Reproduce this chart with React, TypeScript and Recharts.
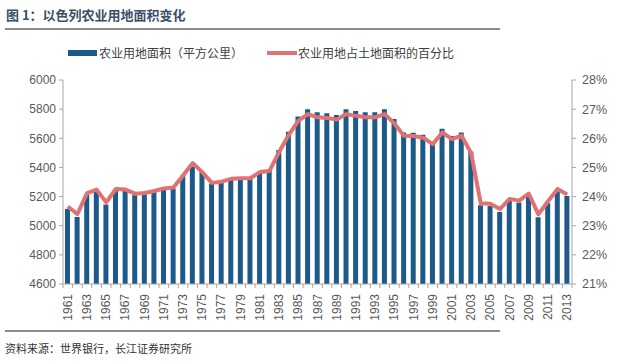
import React from 'react';
import { ComposedChart, Bar, Line, XAxis, YAxis } from 'recharts';

const years = [
  '1961', '1962', '1963', '1964', '1965', '1966', '1967', '1968', '1969', '1970',
  '1971', '1972', '1973', '1974', '1975', '1976', '1977', '1978', '1979', '1980',
  '1981', '1982', '1983', '1984', '1985', '1986', '1987', '1988', '1989', '1990',
  '1991', '1992', '1993', '1994', '1995', '1996', '1997', '1998', '1999', '2000',
  '2001', '2002', '2003', '2004', '2005', '2006', '2007', '2008', '2009', '2010',
  '2011', '2012', '2013',
];

// 农业用地面积（平方公里）
const areaValues = [
  5115, 5060, 5215, 5240, 5145, 5245, 5240, 5210, 5215, 5230,
  5250, 5255, 5345, 5420, 5370, 5290, 5300, 5320, 5325, 5325,
  5370, 5380, 5520, 5645, 5750, 5800, 5778, 5772, 5760, 5800,
  5787, 5778, 5778, 5800, 5732, 5640, 5638, 5625, 5572, 5665,
  5615, 5640, 5510, 5140, 5135, 5095, 5172, 5159, 5211, 5058,
  5154, 5245, 5204,
];

// 农业用地占土地面积的百分比 (%)
const shareValues = [
  23.66, 23.40, 24.12, 24.24, 23.80, 24.26, 24.24, 24.10, 24.12, 24.19,
  24.28, 24.31, 24.72, 25.15, 24.84, 24.47, 24.51, 24.61, 24.63, 24.63,
  24.84, 24.88, 25.53, 26.11, 26.60, 26.83, 26.72, 26.70, 26.64, 26.83,
  26.77, 26.72, 26.72, 26.83, 26.51, 26.09, 26.08, 26.02, 25.80, 26.20,
  25.97, 26.09, 25.49, 23.77, 23.75, 23.57, 23.92, 23.86, 24.10, 23.39,
  23.84, 24.26, 24.07,
];

const leftTicks = [4600, 4800, 5000, 5200, 5400, 5600, 5800, 6000];
const rightTicks = [21, 22, 23, 24, 25, 26, 27, 28];

const data = years.map((year, i) => ({ year, area: areaValues[i], pct: shareValues[i] }));

const BAR_COLOR = '#1c5a8a';
const LINE_COLOR = '#e07274';
const AXIS_COLOR = '#a6a6a6';
const TEXT_COLOR = '#595959';
const NUM_FONT = '"Liberation Sans", Arial, sans-serif';
const CJK_FONT = '"Noto Sans CJK SC", "Noto Sans", sans-serif';

const PLOT_WIDTH = 509;

const YearTick = (props: any) => {
  const { x, y, payload, index } = props;
  const half = PLOT_WIDTH / years.length / 2;
  return (
    <g>
      <line x1={x - half} x2={x - half} y1={y} y2={y + 4} stroke={AXIS_COLOR} />
      {index === years.length - 1 && (
        <line x1={x + half} x2={x + half} y1={y} y2={y + 4} stroke={AXIS_COLOR} />
      )}
      {index % 2 === 0 && (
        <text
          x={x}
          y={y + 10}
          transform={`rotate(-90, ${x}, ${y + 10})`}
          textAnchor="end"
          dominantBaseline="central"
          fontSize={12}
          fontFamily={NUM_FONT}
          fill={TEXT_COLOR}
        >
          {payload.value}
        </text>
      )}
    </g>
  );
};

export default function App() {
  return (
    <div style={{ position: 'absolute', left: 0, top: 0, width: 640, height: 364, background: '#fff', overflow: 'hidden' }}>
      <div style={{ position: 'absolute', left: 6, top: 5, fontFamily: CJK_FONT, fontSize: 13, fontWeight: 700, color: '#3b4f69', whiteSpace: 'nowrap' }}>
        图 1：以色列农业用地面积变化
      </div>
      <div style={{ position: 'absolute', left: 5, top: 28, width: 495, height: 2, background: '#8c8c8c' }} />

      {/* legend */}
      <div style={{ position: 'absolute', left: 68, top: 50, width: 29, height: 6, background: BAR_COLOR }} />
      <div style={{ position: 'absolute', left: 99, top: 44, fontFamily: CJK_FONT, fontSize: 12, color: '#404040', whiteSpace: 'nowrap', lineHeight: '18px' }}>
        农业用地面积（平方公里）
      </div>
      <div style={{ position: 'absolute', left: 267, top: 51, width: 30, height: 4, background: LINE_COLOR }} />
      <div style={{ position: 'absolute', left: 298, top: 44, fontFamily: CJK_FONT, fontSize: 12, color: '#404040', whiteSpace: 'nowrap', lineHeight: '18px' }}>
        农业用地占土地面积的百分比
      </div>

      <div style={{ position: 'absolute', left: 0, top: 0 }}>
        <ComposedChart width={640} height={364} data={data} margin={{ top: 80, right: 0, bottom: 30, left: 0 }}>
          <XAxis
            dataKey="year"
            interval={0}
            height={50}
            tickSize={0}
            tickMargin={0}
            tickLine={false}
            axisLine={{ stroke: AXIS_COLOR }}
            tick={<YearTick />}
          />
          <YAxis
            yAxisId="left"
            orientation="left"
            width={63}
            domain={[4600, 6000]}
            ticks={leftTicks}
            interval={0}
            tickSize={4}
            tickMargin={3}
            axisLine={{ stroke: AXIS_COLOR }}
            tickLine={{ stroke: AXIS_COLOR }}
            tick={{ fontSize: 12, fill: TEXT_COLOR, fontFamily: NUM_FONT }}
          />
          <YAxis
            yAxisId="right"
            orientation="right"
            width={68}
            domain={[21, 28]}
            ticks={rightTicks}
            interval={0}
            tickSize={4}
            tickMargin={6}
            axisLine={{ stroke: AXIS_COLOR }}
            tickLine={{ stroke: AXIS_COLOR }}
            tickFormatter={(v) => `${v}%`}
            tick={{ fontSize: 12.5, fill: TEXT_COLOR, fontFamily: NUM_FONT }}
          />
          <Bar yAxisId="left" dataKey="area" fill={BAR_COLOR} barSize={5} isAnimationActive={false} />
          <Line
            yAxisId="right"
            dataKey="pct"
            type="linear"
            stroke={LINE_COLOR}
            strokeWidth={4}
            dot={false}
            strokeLinejoin="round"
            isAnimationActive={false}
          />
        </ComposedChart>
      </div>

      <div style={{ position: 'absolute', left: 5, top: 330, width: 495, height: 2, background: '#8c8c8c' }} />
      <div style={{ position: 'absolute', left: 5, top: 340, fontFamily: CJK_FONT, fontSize: 11, color: '#333', whiteSpace: 'nowrap', lineHeight: '16px' }}>
        资料来源：世界银行，长江证券研究所
      </div>
    </div>
  );
}
